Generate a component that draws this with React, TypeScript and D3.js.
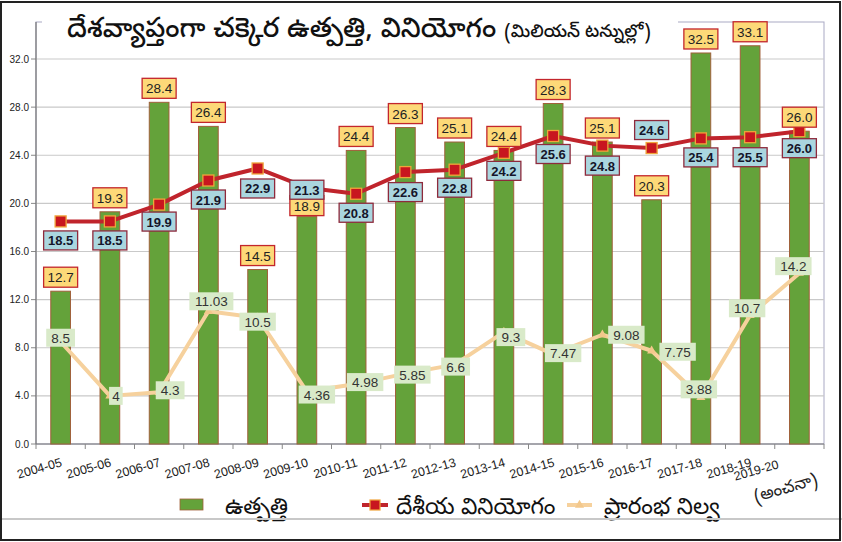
import React from 'react';
import * as d3 from 'd3';

const categories = ['2004-05','2005-06','2006-07','2007-08','2008-09','2009-10','2010-11','2011-12','2012-13','2013-14','2014-15','2015-16','2016-17','2017-18','2018-19','2019-20'];
const production = [12.7,19.3,28.4,26.4,14.5,18.9,24.4,26.3,25.1,24.4,28.3,25.1,20.3,32.5,33.1,26.0];
const consumption = [18.5,18.5,19.9,21.9,22.9,21.3,20.8,22.6,22.8,24.2,25.6,24.8,24.6,25.4,25.5,26.0];
const openingStock = [8.5,4,4.3,11.03,10.5,4.36,4.98,5.85,6.6,9.3,7.47,9.08,7.75,3.88,10.7,14.2];
const openingLabels = ['8.5','4','4.3','11.03','10.5','4.36','4.98','5.85','6.6','9.3','7.47','9.08','7.75','3.88','10.7','14.2'];
const yTicks = [0,4,8,12,16,20,24,28,32];
const lastNote = '(అంచనా)';
const title = 'దేశవ్యాప్తంగా చక్కెర ఉత్పత్తి, వినియోగం';
const subtitle = '(మిలియన్ టన్నుల్లో)';
const legendNames = ['ఉత్పత్తి','దేశీయ వినియోగం','ప్రారంభ నిల్వ'];

// label placement tweaks (style, not data)
const prodDy = [14,14,14,14,14,11,14,14,14,14,14,14,14,14,14,14];
const consDy = [19,19,17,19,20,2,19,20,18,18,18,20,-18,19,20,17];
const openDx = [0,6,11,3,0,10,9,7,1,7,10,24,26,-2,-3,-6];
const openDy = [-4,0,-2,-10,4,3,-2,1,2,5,-1,0,1,-8,-7,-7];

const W = 842, H = 542;
const left = 36, right = 824, top = 22, bottom = 444;
const numFont = '"Liberation Sans", Arial, sans-serif';
const teluguFont = '"Noto Sans Telugu", "Noto Sans", sans-serif';

export default function App() {
  const x = d3.scaleBand<string>().domain(categories).range([left, right]).paddingInner(0.6).paddingOuter(0.3);
  const y = d3.scaleLinear().domain([0, 32]).range([bottom, 59]);
  const cx = (c: string) => (x(c) as number) + x.bandwidth() / 2;
  const step = x.step();

  const consLine = d3.line<number>().x((_, i) => cx(categories[i])).y(d => y(d));
  const openLine = d3.line<number>().x((_, i) => cx(categories[i])).y(d => y(d));
  const tri = d3.symbol().type(d3.symbolTriangle).size(36)();

  return (
    <svg width={W} height={H} style={{ position: 'absolute', left: 0, top: 0, background: '#fff' }}>
      <rect x={0} y={0} width={W} height={H} fill="#fff" />
      {/* plot frame */}
      <rect x={left} y={top} width={right - left} height={bottom - top} fill="none" stroke="#a9a9c4" strokeWidth={1} />
      {/* gridlines */}
      {yTicks.map(t => (
        <g key={t}>
          {t > 0 && <line x1={left} x2={right} y1={y(t)} y2={y(t)} stroke="#c9c9c9" strokeWidth={1.2} />}
          <line x1={left - 5} x2={left} y1={y(t)} y2={y(t)} stroke="#888" />
          <text x={left - 7} y={y(t) + 3.5} textAnchor="end" fontFamily={numFont} fontSize={10} fill="#222">{t.toFixed(1)}</text>
        </g>
      ))}
      {/* title with white box */}
      <rect x={42} y={4} width={636} height={52} fill="#fff" />
      <text x={67} y={37} fontFamily={teluguFont} fontSize={27.5} fontWeight={500} fill="#111">
        {title}
        <tspan fontSize={18} dx={8}>{subtitle}</tspan>
      </text>
      {/* axes */}
      <line x1={left} x2={left} y1={top} y2={bottom} stroke="#777" strokeWidth={1.2} />
      <line x1={left} x2={right} y1={bottom} y2={bottom} stroke="#777" strokeWidth={1.2} />
      {categories.map((c, i) => (
        <line key={'t' + i} x1={left + step * i} x2={left + step * i} y1={bottom} y2={bottom + 5} stroke="#888" />
      ))}
      <line x1={right} x2={right} y1={bottom} y2={bottom + 5} stroke="#888" />
      {/* bars */}
      {categories.map((c, i) => (
        <rect key={'b' + i} x={x(c)} y={y(production[i])} width={x.bandwidth()} height={bottom - y(production[i])}
          fill="#64a23a" stroke="#a0603a" strokeWidth={1} />
      ))}
      {/* opening stock line */}
      <path d={openLine(openingStock) || ''} fill="none" stroke="#f6d19d" strokeWidth={4} strokeLinejoin="round" />
      {openingStock.map((v, i) => (
        <path key={'tr' + i} d={tri || ''} transform={`translate(${cx(categories[i])},${y(v)})`} fill="#f3c88c" />
      ))}
      {/* consumption line */}
      <path d={consLine(consumption) || ''} fill="none" stroke="#c0242c" strokeWidth={4} strokeLinejoin="round" />
      {consumption.map((v, i) => (
        <rect key={'m' + i} x={cx(categories[i]) - 5.5} y={y(v) - 5.5} width={11} height={11} fill="#c8161f" stroke="#f0a43a" strokeWidth={1.3} />
      ))}
      {/* production labels */}
      {production.map((v, i) => (
        <g key={'pl' + i} transform={`translate(${cx(categories[i])},${y(v) - prodDy[i]})`}>
          <rect x={-17} y={-10} width={34} height={20} fill="#fdd978" stroke="#c3262c" strokeWidth={1.3} />
          <text y={5} textAnchor="middle" fontFamily={numFont} fontSize={13.5} fill="#222">{v.toFixed(1)}</text>
        </g>
      ))}
      {/* opening stock labels */}
      {openingStock.map((v, i) => {
        const lbl = openingLabels[i];
        const w = lbl.length * 7.6 + 6;
        return (
          <g key={'ol' + i} transform={`translate(${cx(categories[i]) + openDx[i]},${y(v) + openDy[i]})`}>
            <rect x={-w / 2} y={-9} width={w} height={18} fill="#d9eac9" />
            <text y={5} textAnchor="middle" fontFamily={numFont} fontSize={13.5} fill="#333">{lbl}</text>
          </g>
        );
      })}
      {/* consumption labels */}
      {consumption.map((v, i) => (
        <g key={'cl' + i} transform={`translate(${cx(categories[i])},${y(v) + consDy[i]})`}>
          <rect x={-17} y={-9.5} width={34} height={19} fill="#aad6df" stroke="#8e2a3c" strokeWidth={1.3} />
          <text y={5} textAnchor="middle" fontFamily={numFont} fontSize={13} fontWeight="bold" fill="#15152a">{v.toFixed(1)}</text>
        </g>
      ))}
      {/* x labels */}
      {categories.map((c, i) => {
        if (i === categories.length - 1) {
          return (
            <g key={'xl' + i}>
              <text transform={`translate(${cx(c) - 20},${bottom + 24}) rotate(-16)`} textAnchor="end" fontFamily={numFont} fontSize={12.5} fill="#222">{c}</text>
              <text transform={`translate(${cx(c) + 19},${bottom + 40}) rotate(-16)`} textAnchor="end" fontFamily={teluguFont} fontSize={17} fill="#222">{lastNote}</text>
            </g>
          );
        }
        return (
          <text key={'xl' + i} transform={`translate(${cx(c) + 2},${bottom + 22}) rotate(-16)`} textAnchor="end" fontFamily={numFont} fontSize={12.5} fill="#222">{c}</text>
        );
      })}
      {/* legend */}
      <rect x={180} y={499} width={23} height={11} fill="#64a23a" stroke="#a0603a" strokeWidth={0.8} />
      <text x={225} y={514} fontFamily={teluguFont} fontSize={23} fill="#111">{legendNames[0]}</text>
      <line x1={362} x2={388} y1={505} y2={505} stroke="#c0242c" strokeWidth={4} />
      <rect x={370} y={500} width={10} height={10} fill="#c8161f" stroke="#f0a43a" strokeWidth={1.2} />
      <text x={396} y={514} fontFamily={teluguFont} fontSize={23} fill="#111">{legendNames[1]}</text>
      <line x1={567} x2={592} y1={505} y2={505} stroke="#f6d19d" strokeWidth={4} />
      <path d={tri || ''} transform="translate(579.5,505)" fill="#f3c88c" />
      <text x={604} y={514} fontFamily={teluguFont} fontSize={23} fill="#111">{legendNames[2]}</text>
      {/* bottom separator and outer frame */}
      <line x1={0} x2={W} y1={519} y2={519} stroke="#c8c8c8" strokeWidth={2} />
      <rect x={1} y={2} width={W - 3} height={H - 4} fill="none" stroke="#222" strokeWidth={2} />
    </svg>
  );
}
